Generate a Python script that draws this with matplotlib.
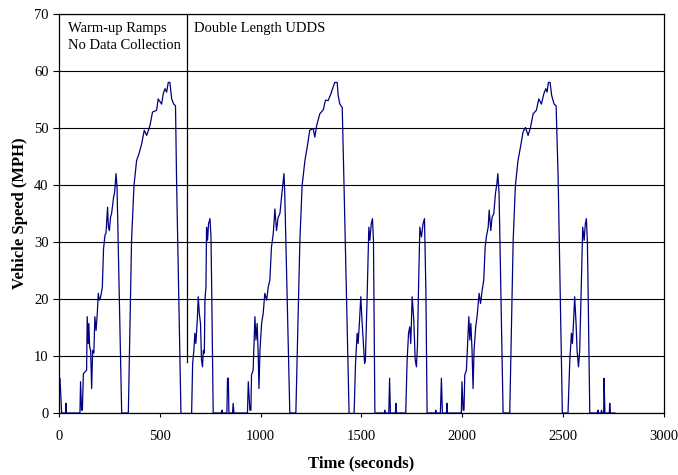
import matplotlib
matplotlib.use("Agg")
import matplotlib.pyplot as plt

plt.rcParams['font.family'] = ['Liberation Serif', 'DejaVu Serif']

# warm-up ramps (no data collection)
warmup_t = [0, 5, 13, 33, 35, 37, 104, 107, 112, 116, 121, 129, 137, 140, 145, 148, 152,
            157, 162, 167, 173, 178, 184, 190, 195, 200, 207, 215, 221, 228, 233, 241, 245,
            250, 256, 261, 271, 275, 278, 283, 288, 311,
            344, 360, 372, 385, 397, 410, 423, 435, 451, 464, 484, 492, 509, 517, 526, 534,
            542, 550, 559, 569, 578, 583, 605]
warmup_mph = [6.1, 6.1, 0, 0, 1.7, 0, 0, 5.5, 0.5, 0.5, 6.9, 7.2, 7.5, 16.9, 12.2, 15.7, 11.6,
              11.0, 4.3, 11.0, 10.5, 16.9, 14.5, 17.5, 21.0, 19.8, 20.4, 22.1, 28.8, 31.2, 31.5, 36.1, 32.6,
              32.0, 34.4, 35.0, 37.9, 38.5, 39.6, 42.0, 39.6, 0,
              0, 30.3, 39.9, 44.3, 45.5, 47.2, 49.6, 48.7, 50.4, 52.8, 53.1, 55.1, 54.2, 56.0, 56.9, 56.3,
              58.0, 58.0, 55.1, 54.2, 53.9, 41.4, 0]

# double length UDDS, first part
udds1_t = [658, 663, 669, 674, 679, 686, 691, 696, 702, 707, 712, 716, 721, 724, 729, 732, 737,
           742, 749, 754, 757, 765,
           807, 809, 811, 833, 836, 840, 843, 861, 864, 868,
           935, 939, 947, 952, 955, 963, 972, 977, 983, 988, 992, 997, 1005, 1013, 1021, 1030,
           1038, 1046, 1054, 1063, 1071, 1079, 1087, 1096, 1104, 1109, 1116, 1120, 1145,
           1175, 1195, 1206, 1220, 1231, 1244, 1261, 1269, 1278, 1294, 1311, 1322, 1335, 1349,
           1357, 1368, 1380, 1385, 1393, 1405, 1413, 1439]
udds1_mph = [0, 8.7, 11.0, 14.0, 12.2, 16.3, 20.4, 17.5, 15.7, 9.3, 8.1, 11.0, 10.5, 19.8, 22.1, 32.6, 30.3,
             33.2, 34.1, 30.9, 23.3, 0,
             0, 0.5, 0, 0, 6.1, 6.1, 0, 0, 1.7, 0,
             0, 5.5, 0.5, 0.5, 6.7, 7.5, 16.9, 12.8, 15.7, 10.5, 4.3, 11.0, 15.7, 17.5, 21.0, 19.8,
             22.1, 23.3, 29.1, 31.5, 35.8, 32.0, 34.3, 35.0, 37.9, 39.6, 42.0, 38.5, 0,
             0, 30.3, 39.9, 44.3, 46.6, 49.6, 49.9, 48.4, 50.4, 52.5, 53.2, 54.9, 54.8, 56.0,
             56.9, 58.0, 58.0, 55.7, 54.2, 53.6, 41.4, 0]

# double length UDDS, second part
udds2_t = [1464, 1471, 1479, 1484, 1491, 1497, 1504, 1511, 1516, 1520, 1529, 1537, 1542, 1549,
           1555, 1560, 1567,
           1614, 1616, 1618, 1636, 1640, 1644, 1669, 1671, 1673,
           1720, 1727, 1734, 1740, 1745, 1752, 1760, 1767, 1773, 1778, 1783, 1790, 1798, 1806,
           1813, 1820, 1826,
           1867, 1869, 1871, 1892, 1897, 1902, 1923, 1925, 1927,
           1996, 1999, 2005, 2009, 2013, 2021, 2033, 2038, 2043, 2049, 2054, 2059, 2067, 2074,
           2084, 2091, 2099, 2107, 2114, 2120, 2129, 2134, 2142, 2148, 2157, 2165, 2172, 2177,
           2183, 2203,
           2236, 2253, 2264, 2277, 2289, 2302, 2314, 2327, 2339, 2352, 2368, 2380, 2393, 2405,
           2415, 2421, 2428, 2436, 2444, 2456, 2466, 2476, 2497,
           2525, 2534, 2542, 2547, 2553, 2558, 2565, 2570, 2577, 2583, 2590, 2598, 2605, 2611,
           2616, 2621, 2624, 2633,
           2672, 2674, 2676, 2689, 2691, 2694, 2702, 2704, 2708, 2730, 2732, 2735, 2757]
udds2_mph = [0, 8.7, 14.0, 12.2, 16.3, 20.4, 15.7, 11.6, 8.7, 9.3, 21.0, 32.6, 30.3, 33.2,
             34.1, 30.3, 0,
             0, 0.5, 0, 0, 6.1, 0, 0, 1.7, 0,
             0, 9.3, 14.0, 15.1, 12.2, 20.4, 16.3, 9.3, 8.1, 11.6, 21.0, 32.6, 30.9, 33.2,
             34.1, 21.5, 0,
             0, 0.5, 0, 0, 6.1, 0, 0, 1.7, 0,
             0, 5.5, 0.5, 0.5, 6.7, 7.5, 16.9, 12.8, 15.7, 11.0, 4.3, 11.0, 15.1, 16.9,
             21.0, 19.2, 21.5, 23.3, 29.1, 30.9, 32.6, 35.6, 32.0, 34.3, 35.0, 38.5, 40.2, 42.0,
             38.5, 0,
             0, 30.3, 39.9, 44.3, 46.6, 49.3, 50.1, 48.7, 50.1, 52.5, 53.1, 55.1, 54.2, 56.0,
             56.9, 56.3, 58.0, 58.0, 55.7, 54.2, 53.9, 41.4, 0,
             0, 9.3, 14.0, 12.2, 16.3, 20.4, 15.7, 11.0, 8.1, 11.0, 21.0, 32.6, 30.3, 33.2,
             34.1, 30.3, 23.3, 0,
             0, 0.5, 0, 0, 0.5, 0, 0, 6.1, 0, 0, 1.7, 0, 0]

split_time = 636

fig = plt.figure(figsize=(6.78, 4.75), dpi=100)
ax = fig.add_axes([0.087, 0.1305, 0.892, 0.84])

line_color = '#000080'
ax.plot(warmup_t, warmup_mph, color=line_color, lw=0.9)
ax.plot([warmup_t[-1], udds1_t[0]], [0, 0], color=line_color, lw=0.9)
ax.plot(udds1_t, udds1_mph, color=line_color, lw=0.9)
ax.plot([udds1_t[-1], udds2_t[0]], [0, 0], color=line_color, lw=0.9)
ax.plot(udds2_t, udds2_mph, color=line_color, lw=0.9)

# divider between warm-up and test
ax.plot([split_time, split_time], [9, 70], color='black', lw=0.9)

ax.set_xlim(0, 3000)
ax.set_ylim(0, 70)
ax.set_xticks(range(0, 3001, 500))
ax.set_yticks(range(0, 71, 10))
ax.yaxis.grid(True, color='black', lw=0.8)
ax.set_axisbelow(True)
for s in ax.spines.values():
    s.set_color('black')
    s.set_linewidth(0.9)
ax.tick_params(axis='both', labelsize=10.5, direction='out', length=4, color='black')
ax.tick_params(axis='x', pad=9.5, length=3)

ax.set_xlabel('Time (seconds)', fontsize=12, fontweight='bold', labelpad=9)
ax.set_ylabel('Vehicle Speed (MPH)', fontsize=12, fontweight='bold', labelpad=4)

ax.text(45, 68.6, 'Warm-up Ramps\nNo Data Collection', fontsize=10.5, va='top', ha='left',
        linespacing=1.45)
ax.text(672, 68.6, 'Double Length UDDS', fontsize=10.5, va='top', ha='left')

fig.savefig('out.png', dpi=100)
